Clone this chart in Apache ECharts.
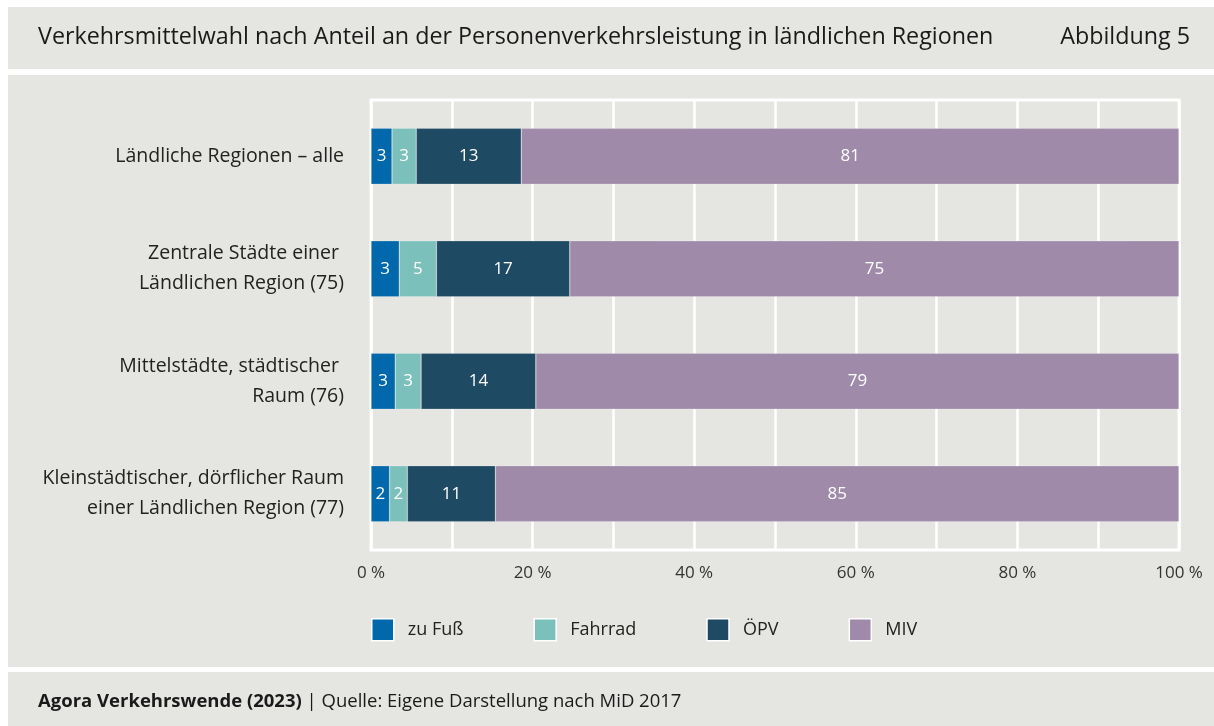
<!DOCTYPE html>
<html lang="de">
<head>
  <meta charset="UTF-8">
  <title>Verkehrsmittelwahl ländliche Regionen</title>
  <script src="https://cdn.jsdelivr.net/npm/echarts@6/dist/echarts.min.js"></script>
  <style>
    html, body { margin: 0; padding: 0; background: #fff; }
    #chart { width: 1214px; height: 726px; }
  </style>
</head>
<body>
<div id="chart"></div>
<script>
  // Kategorien (von oben nach unten)
  const regionen = [
    'Ländliche Regionen – alle',
    'Zentrale Städte einer \nLändlichen Region (75)',
    'Mittelstädte, städtischer \nRaum (76)',
    'Kleinstädtischer, dörflicher Raum\neiner Ländlichen Region (77)'
  ];
  const modi = ['zu Fuß', 'Fahrrad', 'ÖPV', 'MIV'];
  const farben = ['#0068ab', '#7cc0bb', '#1f4a63', '#9f8aa9'];

  // Anteile in Prozent je Region (Balkenlängen, aus der Grafik geschätzt)
  const zuFuss  = [2.6, 3.5, 3.0, 2.3];
  const fahrrad = [3.0, 4.6, 3.2, 2.2];
  const oepv    = [13.0, 16.5, 14.2, 10.9];
  const miv     = [81.4, 75.4, 79.6, 84.6];
  const werte = [zuFuss, fahrrad, oepv, miv];

  // gedruckte (gerundete) Beschriftungen
  const zuFussLbl  = [3, 3, 3, 2];
  const fahrradLbl = [3, 5, 3, 2];
  const oepvLbl    = [13, 17, 14, 11];
  const mivLbl     = [81, 75, 79, 85];
  const labels = [zuFussLbl, fahrradLbl, oepvLbl, mivLbl];

  const xTicks = [0, 20, 40, 60, 80, 100];

  const bg = '#e5e5e1';
  const font = '"Open Sans"';

  const chart = echarts.init(document.getElementById('chart'));

  const option = {
    backgroundColor: '#ffffff',
    textStyle: { fontFamily: font },
    animation: false,
    graphic: [
      // Kopfzeile, Diagrammfläche, Fußzeile
      { type: 'rect', z: -10, shape: { x: 8, y: 7, width: 1206, height: 62 }, style: { fill: bg } },
      { type: 'rect', z: -10, shape: { x: 8, y: 75, width: 1206, height: 592 }, style: { fill: bg } },
      { type: 'rect', z: -10, shape: { x: 8, y: 672, width: 1206, height: 54 }, style: { fill: bg } },
      {
        type: 'text', left: 38, top: 26,
        style: { text: 'Verkehrsmittelwahl nach Anteil an der Personenverkehrsleistung in ländlichen Regionen',
                 fill: '#1a1a1a', font: '23.3px ' + font }
      },
      {
        type: 'text', right: 24, top: 26,
        style: { text: 'Abbildung 5', fill: '#1a1a1a', font: '23.3px ' + font }
      },
      {
        type: 'text', left: 38, top: 692,
        style: {
          text: '{b|Agora Verkehrswende (2023)} | Quelle: Eigene Darstellung nach MiD 2017',
          fill: '#1a1a1a', font: '18.5px ' + font,
          rich: { b: { fontWeight: 'bold', fontSize: 18.5, fontFamily: font, fill: '#1a1a1a' } }
        }
      }
    ],
    legend: {
      data: modi,
      left: 366,
      top: 613,
      itemWidth: 22,
      itemHeight: 22,
      itemGap: 70,
      icon: 'rect',
      itemStyle: { borderColor: '#ffffff', borderWidth: 1.5 },
      textStyle: { fontSize: 18, color: '#222', fontFamily: font, padding: [0, 0, 0, 9] }
    },
    grid: {
      left: 371,
      right: 35,
      top: 100,
      bottom: 176,
      show: true,
      borderColor: '#ffffff',
      borderWidth: 3,
      containLabel: false
    },
    xAxis: {
      type: 'value',
      min: 0,
      max: 100,
      interval: 10,
      axisLine: { show: false },
      axisTick: { show: false },
      splitLine: { show: true, lineStyle: { color: '#ffffff', width: 2.5 } },
      axisLabel: {
        margin: 15,
        fontSize: 17,
        color: '#333',
        fontFamily: font,
        formatter: v => xTicks.includes(v) ? v + ' %' : ''
      }
    },
    yAxis: {
      type: 'category',
      data: regionen,
      inverse: true,
      axisLine: { show: false },
      axisTick: { show: false },
      axisLabel: {
        margin: 27,
        fontSize: 19.5,
        lineHeight: 30,
        padding: [8, 0, 0, 0],
        color: '#222',
        fontFamily: font,
        align: 'right'
      }
    },
    series: modi.map((name, i) => ({
      name: name,
      type: 'bar',
      stack: 'gesamt',
      barWidth: 56,
      data: werte[i],
      itemStyle: { color: farben[i], borderColor: 'rgba(255,255,255,0.35)', borderWidth: 0.6 },
      label: {
        show: true,
        color: '#ffffff',
        fontSize: 17,
        fontFamily: font,
        formatter: p => String(labels[i][p.dataIndex])
      }
    }))
  };

  chart.setOption(option);
</script>
</body>
</html>
